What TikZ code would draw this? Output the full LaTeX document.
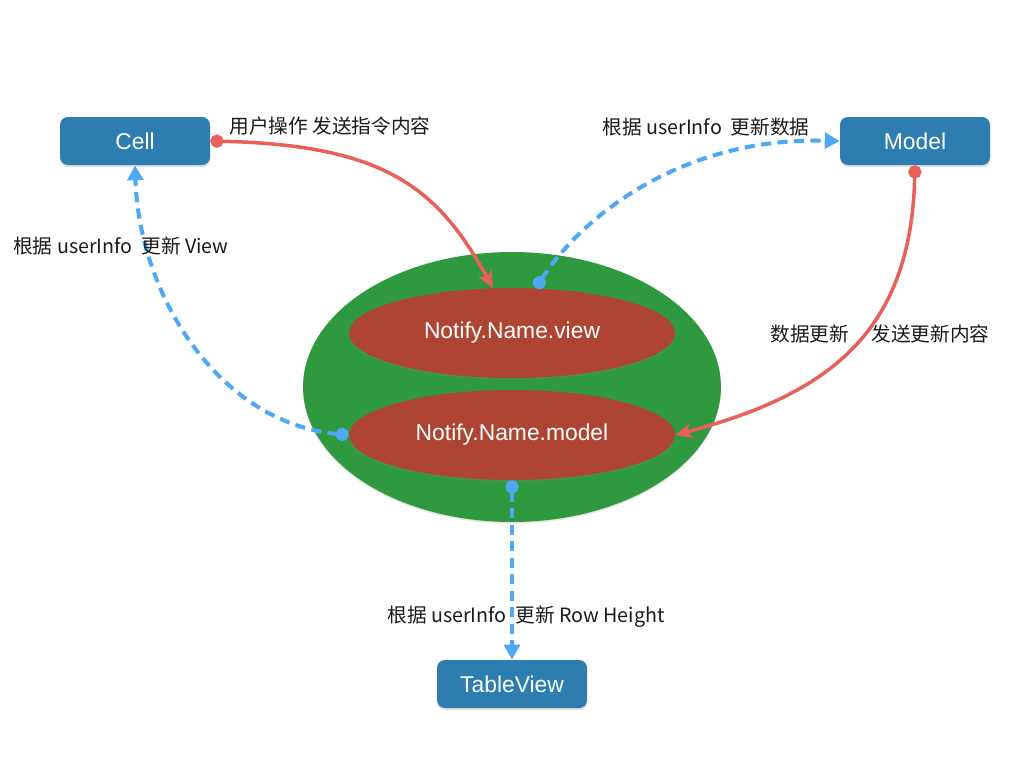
\documentclass[tikz,border=0pt]{standalone}
\usepackage{fontspec}
\setmainfont{Noto Sans CJK SC}
\newfontfamily\boxfont{Liberation Sans}
\usetikzlibrary{arrows.meta,positioning,calc,shapes.geometric,shadows}
\definecolor{NBox}{HTML}{2E7DB0}
\definecolor{NGreen}{HTML}{2F993F}
\definecolor{NBrick}{HTML}{AE4533}
\definecolor{NRed}{HTML}{E9605A}
\definecolor{NBlue}{HTML}{4EA8F6}
\definecolor{NInk}{HTML}{1A1A1A}
\tikzset{
  push/.style={{Circle[length=7.5pt]}-{Stealth[length=9.5pt,width=8.5pt,inset=2.5pt]},NRed,line width=2pt},
  notify/.style={{Circle[length=7.5pt]}-{Triangle[length=8.5pt,width=9pt]},NBlue,line width=2.3pt,
                 dash pattern=on 5.8pt off 3.6pt},
  box/.style={rectangle,fill=NBox,rounded corners=4.5pt,minimum width=3cm,minimum height=0.96cm,
              text=white,font=\boxfont\fontsize{13}{15}\selectfont,
              drop shadow={opacity=0.25,shadow xshift=0.4pt,shadow yshift=-1.2pt}},
  hub/.style={ellipse,fill=NGreen,minimum width=8.36cm,minimum height=5.4cm,inner sep=0pt,
              drop shadow={opacity=0.2,shadow xshift=0pt,shadow yshift=-1pt}},
  note/.style={ellipse,fill=NBrick,minimum width=6.52cm,minimum height=1.8cm,inner sep=0pt,
               text=white,font=\boxfont\fontsize{13}{15}\selectfont,
               drop shadow={opacity=0.3,shadow xshift=0pt,shadow yshift=-1pt}},
  label/.style={text=NInk,font=\fontsize{11.2}{13}\selectfont,align=center},
}

\begin{document}
\begin{tikzpicture}[x=0.02cm,y=-0.02cm]
    % pixel grid of the slide, y grows downward
    \useasboundingbox (0,0) rectangle (1024,768);

    \node[hub] (hub) at (512,387) {};
    \node[note] (viewnote) at (512,333) {Notify.Name.view};
    \node[note] (modelnote) at (512,435) {Notify.Name.model};

    \node[box] (cell) at (135,141) {Cell};
    \node[box] (model) at (915,141) {Model};
    \node[box] (tableview) at (512,684) {TableView};

    \draw[push] (cell.east) .. controls +(175,4) and +(-55,-100) .. (viewnote.113);
    \draw[notify] (viewnote.62) .. controls +(45,-70) and +(-160,-4) .. (model.west);
    \draw[push] (model.south) .. controls +(-4,170) and +(150,-40) .. (modelnote.east);
    \draw[notify] (modelnote.west) .. controls +(-130,-12) and +(4,130) .. (cell.south);
    \draw[notify] (modelnote.south) -- (tableview.north);

    \node[label] (pushlabel) at (330,126) {用户操作 发送指令内容};
    \node[label] (datalabel) at (706,127) {根据 userInfo\ \ 更新数据};
    \node[label] (viewlabel) at (121,246) {根据 userInfo\ \ 更新 View};
    \node[label] (modellabel) at (880,334) {数据更新\ \ \ \ \ 发送更新内容};
    \node[label] (rowlabel) at (526,617) {根据 userInfo\ \ 更新 Row Height};
  \end{tikzpicture}
\end{document}
